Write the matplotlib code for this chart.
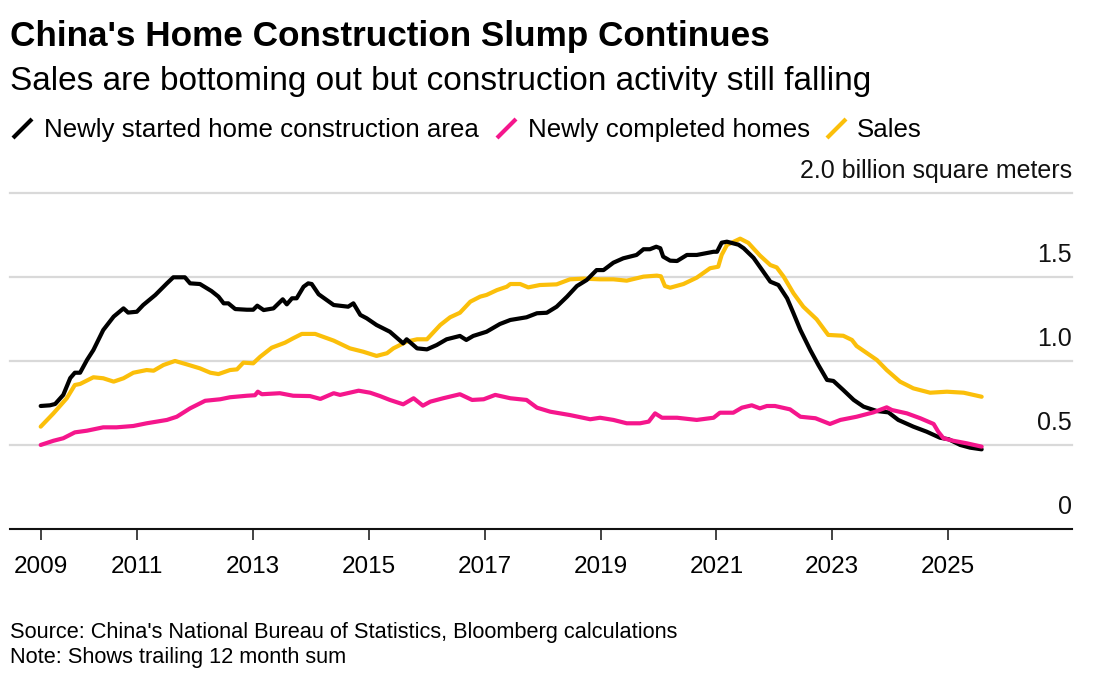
import matplotlib
matplotlib.use("Agg")
from matplotlib import pyplot as plt
from matplotlib.lines import Line2D
from matplotlib import transforms

plt.rcParams['font.family'] = ['Liberation Sans', 'DejaVu Sans']

# Trailing 12 month sums, billion square meters
started_years = [2009.33, 2009.49, 2009.58, 2009.72, 2009.84, 2009.92, 2010.01, 2010.13, 2010.24, 2010.41,
                 2010.59, 2010.76, 2010.84, 2010.99, 2011.10, 2011.31, 2011.51, 2011.62, 2011.82, 2011.91,
                 2012.08, 2012.28, 2012.40, 2012.49, 2012.57, 2012.69, 2012.89, 2013.00, 2013.07, 2013.18,
                 2013.35, 2013.51, 2013.58, 2013.67, 2013.75, 2013.87, 2013.95, 2014.01, 2014.13, 2014.39,
                 2014.64, 2014.73, 2014.85, 2014.96, 2015.13, 2015.36, 2015.59, 2015.65, 2015.83, 2016.00,
                 2016.17, 2016.34, 2016.57, 2016.68, 2016.80, 2017.03, 2017.26, 2017.44, 2017.72, 2017.90,
                 2018.07, 2018.24, 2018.42, 2018.59, 2018.76, 2018.93, 2019.05, 2019.22, 2019.39, 2019.62,
                 2019.74, 2019.85, 2019.96, 2020.03, 2020.08, 2020.20, 2020.32, 2020.49, 2020.66, 2020.95,
                 2021.01, 2021.09, 2021.18, 2021.38, 2021.47, 2021.64, 2021.81, 2021.93, 2022.07, 2022.22,
                 2022.33, 2022.45, 2022.62, 2022.76, 2022.91, 2023.02, 2023.19, 2023.37, 2023.54, 2023.77,
                 2023.97, 2024.14, 2024.40, 2024.63, 2024.86, 2025.01, 2025.21, 2025.38, 2025.58]
started = [0.734, 0.738, 0.746, 0.80, 0.90, 0.932, 0.932, 1.008, 1.067, 1.186,
           1.266, 1.315, 1.29, 1.295, 1.335, 1.395, 1.464, 1.50, 1.50, 1.464,
           1.46, 1.418, 1.385, 1.345, 1.345, 1.311, 1.307, 1.307, 1.331, 1.305,
           1.315, 1.369, 1.339, 1.375, 1.375, 1.444, 1.464, 1.46, 1.399, 1.335,
           1.325, 1.345, 1.276, 1.256, 1.216, 1.176, 1.107, 1.131, 1.077, 1.071,
           1.097, 1.131, 1.151, 1.127, 1.151, 1.176, 1.222, 1.246, 1.262, 1.286,
           1.289, 1.325, 1.385, 1.448, 1.484, 1.543, 1.543, 1.587, 1.613, 1.633,
           1.667, 1.667, 1.682, 1.673, 1.623, 1.599, 1.597, 1.633, 1.633, 1.652,
           1.652, 1.706, 1.712, 1.694, 1.673, 1.616, 1.533, 1.474, 1.454, 1.375,
           1.286, 1.186, 1.067, 0.978, 0.889, 0.883, 0.829, 0.77, 0.73, 0.704,
           0.696, 0.651, 0.611, 0.581, 0.545, 0.536, 0.502, 0.486, 0.476]

sales_years = [2009.33, 2009.55, 2009.78, 2009.92, 2010.01, 2010.24, 2010.41, 2010.59, 2010.76, 2010.93,
               2011.16, 2011.28, 2011.45, 2011.65, 2011.85, 2012.08, 2012.26, 2012.40, 2012.60, 2012.72,
               2012.83, 2013.00, 2013.12, 2013.32, 2013.55, 2013.69, 2013.84, 2014.07, 2014.39, 2014.67,
               2014.90, 2015.13, 2015.31, 2015.42, 2015.65, 2015.83, 2016.00, 2016.23, 2016.40, 2016.57,
               2016.75, 2016.92, 2017.03, 2017.21, 2017.38, 2017.44, 2017.61, 2017.75, 2017.95, 2018.24,
               2018.47, 2018.70, 2018.99, 2019.22, 2019.45, 2019.74, 2019.97, 2020.04, 2020.11, 2020.20,
               2020.43, 2020.66, 2020.89, 2021.03, 2021.09, 2021.18, 2021.41, 2021.55, 2021.75, 2021.93,
               2022.04, 2022.16, 2022.33, 2022.50, 2022.73, 2022.93, 2023.19, 2023.34, 2023.42, 2023.77,
               2023.94, 2024.17, 2024.40, 2024.69, 2024.98, 2025.27, 2025.58]
sales = [0.611, 0.69, 0.78, 0.859, 0.865, 0.905, 0.899, 0.879, 0.899, 0.932,
         0.948, 0.944, 0.978, 1.002, 0.982, 0.958, 0.932, 0.924, 0.948, 0.952,
         0.992, 0.988, 1.027, 1.081, 1.111, 1.137, 1.163, 1.163, 1.123, 1.077,
         1.057, 1.032, 1.048, 1.077, 1.117, 1.131, 1.131, 1.216, 1.262, 1.289,
         1.355, 1.385, 1.395, 1.424, 1.444, 1.46, 1.46, 1.44, 1.454, 1.458,
         1.488, 1.492, 1.488, 1.488, 1.48, 1.504, 1.51, 1.506, 1.448, 1.438,
         1.46, 1.498, 1.554, 1.563, 1.633, 1.692, 1.73, 1.705, 1.63, 1.573,
         1.559, 1.504, 1.405, 1.325, 1.25, 1.157, 1.152, 1.127, 1.091, 1.008,
         0.948, 0.879, 0.839, 0.813, 0.819, 0.813, 0.789]

completed_years = [2009.33, 2009.55, 2009.72, 2009.92, 2010.13, 2010.41, 2010.64, 2010.93, 2011.16, 2011.51,
                   2011.68, 2011.91, 2012.17, 2012.43, 2012.60, 2012.89, 2013.03, 2013.08, 2013.15, 2013.46,
                   2013.69, 2013.98, 2014.16, 2014.39, 2014.50, 2014.82, 2015.02, 2015.19, 2015.36, 2015.59,
                   2015.77, 2015.93, 2016.06, 2016.28, 2016.57, 2016.78, 2016.98, 2017.18, 2017.44, 2017.72,
                   2017.90, 2018.13, 2018.47, 2018.82, 2018.99, 2019.22, 2019.45, 2019.68, 2019.83, 2019.94,
                   2020.06, 2020.32, 2020.66, 2020.95, 2021.06, 2021.29, 2021.44, 2021.61, 2021.75, 2021.87,
                   2022.01, 2022.27, 2022.45, 2022.71, 2022.96, 2023.14, 2023.42, 2023.71, 2023.94, 2024.03,
                   2024.29, 2024.52, 2024.75, 2024.83, 2024.92, 2025.09, 2025.32, 2025.58]
completed = [0.502, 0.527, 0.542, 0.577, 0.587, 0.607, 0.607, 0.615, 0.631, 0.651,
             0.67, 0.72, 0.765, 0.774, 0.786, 0.795, 0.798, 0.819, 0.804, 0.81,
             0.795, 0.793, 0.776, 0.81, 0.80, 0.825, 0.813, 0.793, 0.77, 0.744,
             0.78, 0.736, 0.76, 0.78, 0.804, 0.77, 0.774, 0.80, 0.78, 0.77,
             0.724, 0.70, 0.68, 0.655, 0.664, 0.651, 0.631, 0.631, 0.641, 0.69,
             0.664, 0.664, 0.651, 0.664, 0.694, 0.694, 0.724, 0.738, 0.72, 0.734,
             0.734, 0.714, 0.67, 0.661, 0.627, 0.651, 0.67, 0.696, 0.726, 0.71,
             0.69, 0.661, 0.627, 0.581, 0.542, 0.527, 0.512, 0.492]

tick_years = [2009.33, 2011, 2013, 2015, 2017, 2019, 2021, 2023, 2025]
tick_labels = ['2009', '2011', '2013', '2015', '2017', '2019', '2021', '2023', '2025']
y_levels = [0, 0.5, 1.0, 1.5, 2.0]
y_labels = ['0', '0.5', '1.0', '1.5', '2.0 billion square meters']

BLACK = '#000000'
PINK = '#F5168C'
YELLOW = '#FBBF0A'
GRID = '#D9D9D9'

fig = plt.figure(figsize=(11.06, 6.82), dpi=100)
ax = fig.add_axes([10 / 1106, 1 - 529.3 / 682, 1062 / 1106, 336 / 682])
ax.set_xlim(2008.80, 2027.14)
ax.set_ylim(0, 2.0)

for lvl in y_levels[1:]:
    ax.axhline(lvl, color=GRID, lw=1.6, zorder=0, clip_on=False)

ax.plot(sales_years, sales, color=YELLOW, lw=3.0, solid_joinstyle='round', solid_capstyle='round', zorder=3)
ax.plot(started_years, started, color=BLACK, lw=3.0, solid_joinstyle='round', solid_capstyle='round', zorder=4)
ax.plot(completed_years, completed, color=PINK, lw=3.0, solid_joinstyle='round', solid_capstyle='round', zorder=5)

for side in ['top', 'right', 'left']:
    ax.spines[side].set_visible(False)
ax.spines['bottom'].set_linewidth(1.5)
ax.spines['bottom'].set_color('#111111')
ax.set_yticks([])
ax.set_xticks(tick_years)
ax.set_xticklabels(tick_labels, fontsize=17.5)
ax.tick_params(axis='x', length=8, width=1.1, color='#111111', pad=11)

# y labels sit above the gridlines, right aligned
trans = transforms.blended_transform_factory(ax.transAxes, ax.transData)
for lvl, lab in zip(y_levels, y_labels):
    ax.annotate(lab, xy=(1.0, lvl), xycoords=trans, xytext=(0, 11), textcoords='offset points',
                ha='right', va='baseline', fontsize=18, color='#111111')

fig.text(10 / 1106, 1 - 46 / 682, "China's Home Construction Slump Continues",
         fontsize=25.3, fontweight='bold', ha='left', va='baseline')
fig.text(10 / 1106, 1 - 90 / 682, "Sales are bottoming out but construction activity still falling",
         fontsize=24, ha='left', va='baseline')

# legend: slanted strokes followed by labels
legend_items = [(13, 44, BLACK, 'Newly started home construction area'),
                (497, 528, PINK, 'Newly completed homes'),
                (827, 857, YELLOW, 'Sales')]
for x0, tx, col, lab in legend_items:
    fig.add_artist(Line2D([x0 / 1106, (x0 + 19) / 1106], [1 - 138 / 682, 1 - 119 / 682],
                          color=col, lw=3, transform=fig.transFigure, solid_capstyle='butt'))
    fig.text(tx / 1106, 1 - 137 / 682, lab, fontsize=18.6, ha='left', va='baseline')

fig.text(10 / 1106, 1 - 638 / 682, "Source: China's National Bureau of Statistics, Bloomberg calculations",
         fontsize=15.7, ha='left', va='baseline')
fig.text(10 / 1106, 1 - 663 / 682, "Note: Shows trailing 12 month sum",
         fontsize=15.7, ha='left', va='baseline')

fig.savefig('out.png', dpi=100)
